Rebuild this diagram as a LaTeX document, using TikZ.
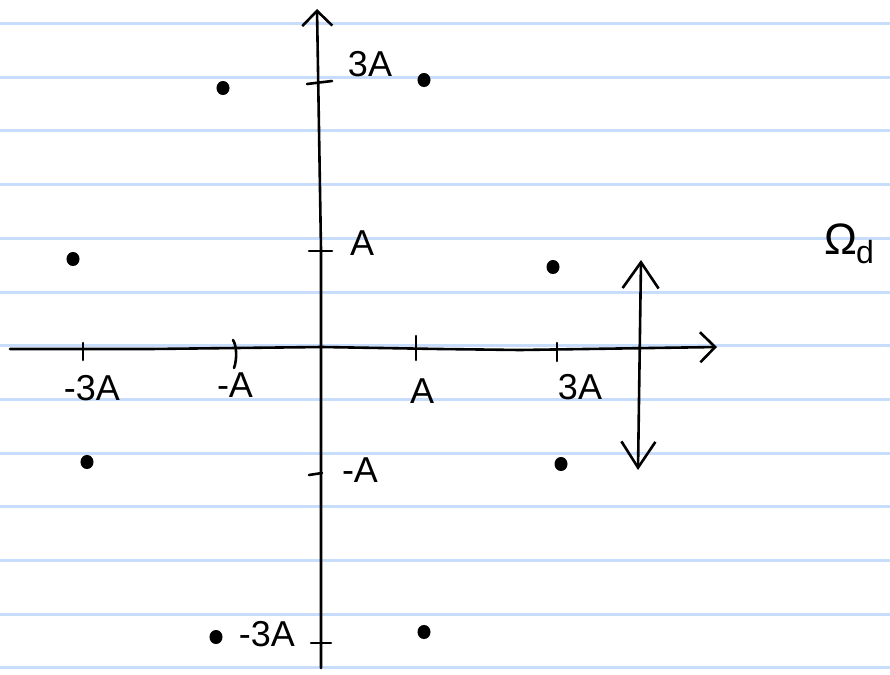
\documentclass[tikz,border=0pt]{standalone}
\usepackage{fontspec}
\setmainfont{Liberation Sans}
\usetikzlibrary{arrows.meta,shapes.geometric}
\definecolor{ruled}{RGB}{200,221,252}
\tikzset{
  pen/.style={line width=2.6pt, line cap=round, line join=round},
  rule/.style={ruled, line width=3pt},
  pt/.style={ellipse, fill=black, draw=black, line width=1pt, inner sep=0pt, minimum width=12pt, minimum height=13pt},
  lbl/.style={inner sep=0pt, font=\fontsize{36}{36}\selectfont},
  barb/.style={-{Straight Barb[length=15pt,width=30pt,line width=2.6pt]}},
  dbarb/.style={{Straight Barb[length=26pt,width=36pt,line width=2.6pt]}-{Straight Barb[length=26pt,width=34pt,line width=2.6pt]}}
}
\begin{document}
\begin{tikzpicture}[x=1pt,y=-1pt]
\useasboundingbox (0,0) rectangle (890,674);
\fill[white] (0,0) rectangle (890,674);
% ruled lines
\foreach \k in {0,...,12}{
  \draw[rule] (0,{23.5+53.7*\k}) -- (890,{23.5+53.7*\k});
}
% axes end points
\coordinate (xs) at (10,349);
\coordinate (xe) at (717,347);
\coordinate (ys) at (321,668);
\coordinate (ye) at (317,9);
\draw[pen, barb] (xs) -- (150,349) -- (322,347) -- (440,349) -- (520,350) -- (xe);
\draw[pen, barb] (ys) -- (321,350) -- (321,250) -- (ye);
% x ticks
\draw[pen] (83,343) -- (83,360);
\draw[pen] (233,340) .. controls (237,346) and (237,360) .. (234,368);
\draw[pen] (416,336) -- (416,360);
\draw[pen] (557,343) -- (557,361);
% y ticks
\draw[pen] (307,84) -- (332,81);
\draw[pen] (309,251) -- (332,251);
\draw[pen] (309,475) -- (322,473);
\draw[pen] (311,643) -- (331,643);
% labels
\node[lbl] (l3Ay) at (370,64) {3A};
\node[lbl] (lAy) at (362,243) {A};
\node[lbl] (lm3Ax) at (92,388) {-3A};
\node[lbl] (lmAx) at (235,385) {-A};
\node[lbl] (lAx) at (422,391) {A};
\node[lbl] (l3Ax) at (580,387) {3A};
\node[lbl] (lmAy) at (360,470) {-A};
\node[lbl] (lm3Ay) at (267,634) {-3A};
\node[lbl, font=\fontsize{44}{44}\selectfont] (omega) at (849,244) {Ω\kern-1pt\raisebox{-9pt}{\fontsize{32}{32}\selectfont d}};
% constellation points
\node[pt] (p1) at (223,88) {};
\node[pt] (p2) at (424,80) {};
\node[pt] (p3) at (73,259) {};
\node[pt] (p4) at (553,267) {};
\node[pt] (p5) at (87,462) {};
\node[pt] (p6) at (561,464) {};
\node[pt] (p7) at (216,637) {};
\node[pt] (p8) at (424,632) {};
% double arrow
\coordinate (da) at (641,260);
\coordinate (db) at (638,470);
\draw[pen, dbarb] (da) -- (db);
\end{tikzpicture}
\end{document}
